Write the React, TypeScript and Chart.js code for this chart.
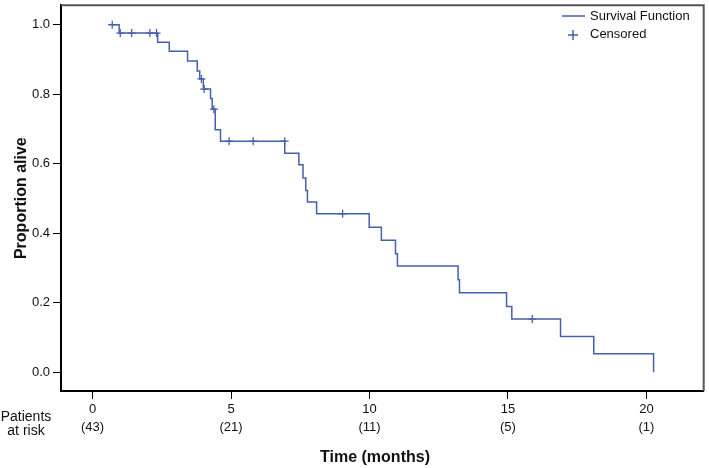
import React, { useEffect, useRef } from "react";
import { Chart, registerables } from "chart.js";

Chart.register(...registerables);

// Kaplan–Meier step data (time in months, survival proportion after the event)
const eventTimes = [0.71, 0.96, 2.35, 2.77, 3.43, 3.78, 3.87, 4.0, 4.26, 4.32, 4.43, 4.62, 6.94, 7.45, 7.6, 7.7, 7.76, 8.09, 9.99, 10.43, 10.94, 11.01, 13.2, 13.25, 14.95, 15.14, 16.9, 18.1, 20.26];
const survival = [1.0, 0.976, 0.95, 0.924, 0.896, 0.867, 0.844, 0.815, 0.788, 0.757, 0.698, 0.665, 0.63, 0.597, 0.559, 0.523, 0.49, 0.456, 0.417, 0.38, 0.341, 0.306, 0.266, 0.229, 0.189, 0.153, 0.103, 0.053, 0.0];

// Censored observations
const censorTimes = [0.71, 1.0, 1.41, 2.07, 2.31, 3.93, 4.03, 4.38, 4.93, 5.8, 6.94, 9.03, 15.88];
const censorSurv = [1.0, 0.976, 0.976, 0.976, 0.976, 0.844, 0.815, 0.757, 0.665, 0.665, 0.665, 0.456, 0.153];

// Axis ticks and patients at risk
const xTicks = [0, 5, 10, 15, 20];
const atRisk = [43, 21, 11, 5, 1];
const yTicks = [0, 0.2, 0.4, 0.6, 0.8, 1.0];

const LINE = "#4560ae";
const FONT = '"Liberation Sans", Arial, sans-serif';
const TEXT = "#111";

const overlay = {
  id: "overlay",
  afterDraw(chart: any) {
    const ctx = chart.ctx;
    const a = chart.chartArea;
    ctx.save();
    // top and right frame
    ctx.strokeStyle = "#555";
    ctx.lineWidth = 2;
    ctx.beginPath();
    ctx.moveTo(a.left, a.top);
    ctx.lineTo(a.right, a.top);
    ctx.lineTo(a.right, a.bottom);
    ctx.stroke();

    // legend
    ctx.strokeStyle = LINE;
    ctx.lineWidth = 1.5;
    ctx.beginPath();
    ctx.moveTo(562, 16);
    ctx.lineTo(585, 16);
    ctx.stroke();
    ctx.beginPath();
    ctx.moveTo(568, 35);
    ctx.lineTo(578, 35);
    ctx.moveTo(573, 30);
    ctx.lineTo(573, 40);
    ctx.stroke();
    ctx.fillStyle = TEXT;
    ctx.font = `13px ${FONT}`;
    ctx.textAlign = "left";
    ctx.textBaseline = "middle";
    ctx.fillText("Survival Function", 590, 16);
    ctx.fillText("Censored", 590, 34);

    // patients at risk
    ctx.font = `14px ${FONT}`;
    ctx.textAlign = "center";
    ctx.fillText("Patients", 26, 417);
    ctx.fillText("at risk", 26, 431);

    // x title
    ctx.font = `bold 16px ${FONT}`;
    ctx.fillText("Time (months)", 375, 458);
    ctx.restore();
  },
};

export default function App() {
  const ref = useRef<HTMLCanvasElement>(null);
  useEffect(() => {
    if (!ref.current) return;
    const stepPts = eventTimes.map((t, i) => ({ x: t, y: survival[i] }));
    const censPts = censorTimes.map((t, i) => ({ x: t, y: censorSurv[i] }));
    const chart = new Chart(ref.current, {
      type: "line",
      data: {
        datasets: [
          {
            label: "Survival Function",
            data: stepPts,
            stepped: "before",
            borderColor: LINE,
            borderWidth: 1.5,
            pointRadius: 0,
            fill: false,
          } as any,
          {
            type: "scatter",
            label: "Censored",
            data: censPts,
            pointStyle: "cross",
            pointRadius: 4,
            borderColor: LINE,
            borderWidth: 1.3,
            showLine: false,
          } as any,
        ],
      },
      options: {
        responsive: false,
        animation: false,
        devicePixelRatio: 1,
        layout: { padding: { left: 0, top: 3, right: 5, bottom: 0 } },
        plugins: { legend: { display: false }, tooltip: { enabled: false } },
        scales: {
          x: {
            type: "linear",
            min: -1.14,
            max: 22.07,
            afterFit: (s: any) => {
              s.height = 77;
              s.paddingLeft = 0;
              s.paddingRight = 0;
            },
            afterBuildTicks: (s: any) => {
              s.ticks = xTicks.map((v) => ({ value: v }));
            },
            border: { display: true, color: "#000", width: 2 },
            grid: { display: true, drawOnChartArea: false, drawTicks: true, tickLength: 8, color: "#000", lineWidth: 1 },
            ticks: {
              autoSkip: false,
              maxRotation: 0,
              padding: 1,
              color: TEXT,
              font: { family: FONT, size: 13, lineHeight: 1.43 },
              callback: (v: any) => {
                const i = xTicks.indexOf(Number(v));
                return [String(v), i >= 0 ? `(${atRisk[i]})` : ""];
              },
            },
          },
          y: {
            type: "linear",
            min: -0.054,
            max: 1.056,
            afterFit: (s: any) => {
              s.width = 61;
              s.paddingTop = 0;
              s.paddingBottom = 0;
            },
            afterBuildTicks: (s: any) => {
              s.ticks = yTicks.map((v) => ({ value: v }));
            },
            border: { display: true, color: "#000", width: 2 },
            grid: { display: true, drawOnChartArea: false, drawTicks: true, tickLength: 8, color: "#000", lineWidth: 1 },
            ticks: {
              padding: 3,
              color: TEXT,
              font: { family: FONT, size: 13 },
              callback: (v: any) => Number(v).toFixed(1),
            },
            title: {
              display: true,
              text: "Proportion alive",
              color: TEXT,
              font: { family: FONT, size: 16, weight: "bold" },
              padding: { top: 12, bottom: 0 },
            },
          },
        },
      },
      plugins: [overlay],
    });
    return () => chart.destroy();
  }, []);
  return (
    <div style={{ position: "absolute", left: 0, top: 0, width: 709, height: 468, background: "#fff" }}>
      <canvas ref={ref} width={709} height={468} />
    </div>
  );
}
